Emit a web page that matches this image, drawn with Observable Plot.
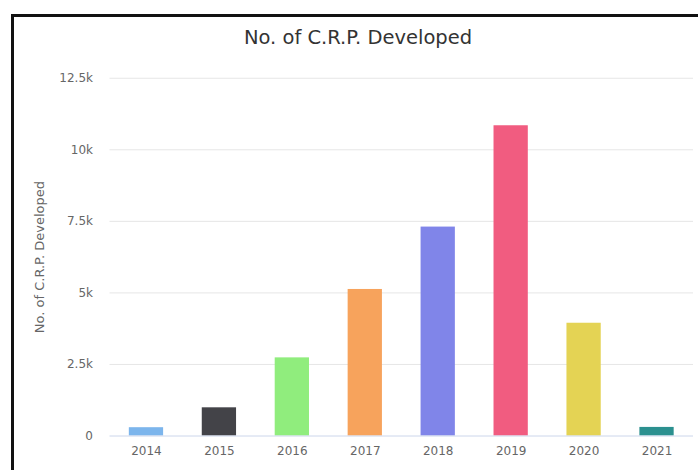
<!DOCTYPE html>
<html>
<head>
<meta charset="utf-8">
<script src="https://cdn.jsdelivr.net/npm/d3@7"></script>
<script src="https://cdn.jsdelivr.net/npm/@observablehq/plot@0.6"></script>
<style>
  html, body { margin: 0; padding: 0; background: #fff; overflow: hidden; }
  #wrap { position: relative; width: 698px; height: 470px; }
  #frame { position: absolute; left: 11px; top: 14px; width: 700px; height: 470px;
           border-left: 3px solid #111; border-top: 3px solid #111; box-sizing: border-box; pointer-events: none; }
  #title { position: absolute; left: 18px; right: 0; top: 26px; text-align: center;
           font-family: "DejaVu Sans", sans-serif; font-size: 19.5px; color: #333; line-height: 24px; }
  #chart { position: absolute; left: 0; top: 0; }
</style>
</head>
<body>
<div id="wrap">
  <div id="chart"></div>
  <div id="frame"></div>
  <div id="title">No. of C.R.P. Developed</div>
</div>
<script>
const years = ["2014", "2015", "2016", "2017", "2018", "2019", "2020", "2021"];
const counts = [290, 985, 2730, 5120, 7300, 10840, 3940, 300];
const colors = ["#7cb5ec", "#434348", "#90ed7d", "#f7a35c", "#8085e9", "#f15c80", "#e4d354", "#2b908f"];
const yTicks = [0, 2500, 5000, 7500, 10000, 12500];
const yTickLabels = ["0", "2.5k", "5k", "7.5k", "10k", "12.5k"];
const yTitle = "No. of C.R.P. Developed";

const data = years.map((y, i) => ({year: y, count: counts[i], color: colors[i]}));

const chart = Plot.plot({
  width: 698,
  height: 470,
  marginLeft: 109.5,
  marginRight: 5,
  marginTop: 77.75,
  marginBottom: 34.5,
  style: {fontFamily: "DejaVu Sans, sans-serif", fontSize: "12px", color: "#666", background: "transparent"},
  x: {domain: years, paddingInner: 0.53, paddingOuter: 0.265, round: false, label: null, tickSize: 0, tickPadding: 10},
  y: {domain: [0, 12500], ticks: yTicks, label: null},
  marks: [
    Plot.gridY(yTicks.slice(1), {stroke: "#e6e6e6", strokeOpacity: 1, strokeWidth: 1}),
    Plot.barY(data, {x: "year", y: "count", fill: "color"}),
    Plot.ruleY([0], {stroke: "#ccd6eb", strokeWidth: 1}),
    Plot.axisX({tickSize: 0, tickPadding: 10, fill: "#666", fontSize: 12}),
    Plot.axisY(yTicks, {tickSize: 0, tickPadding: 17, fill: "#666", fontSize: 12,
      tickFormat: (d) => yTickLabels[yTicks.indexOf(d)]}),
    Plot.text([yTitle], {frameAnchor: "left", dx: -70, rotate: -90, fill: "#666", fontSize: 13, textAnchor: "middle"})
  ]
});
document.getElementById("chart").appendChild(chart);
</script>
</body>
</html>
